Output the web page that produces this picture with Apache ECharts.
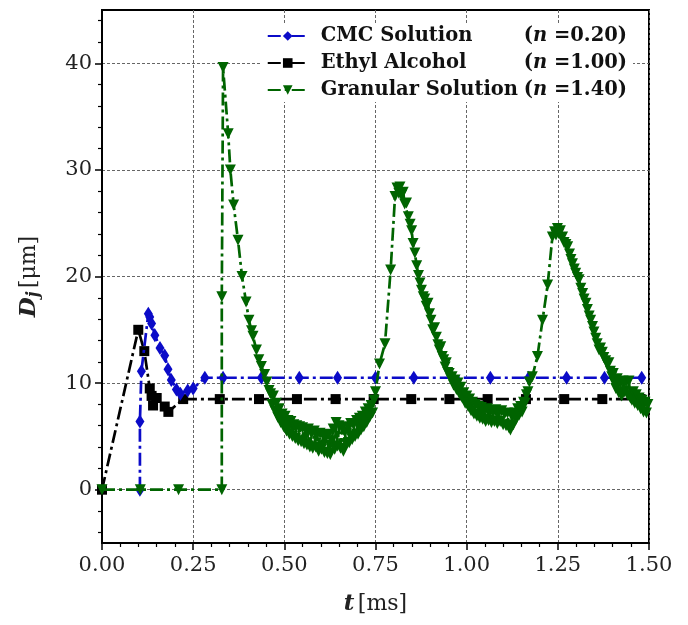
<!DOCTYPE html>
<html>
<head>
<meta charset="utf-8">
<script src="https://cdn.jsdelivr.net/npm/echarts@6/dist/echarts.min.js"></script>
<style>html,body{margin:0;padding:0;background:#fff}#c{width:688px;height:625px}</style>
</head>
<body>
<div id="c"></div>
<script>
// ---------- data ----------
const seriesNames = ['CMC Solution', 'Ethyl Alcohol', 'Granular Solution'];
const nValues = ['0.20', '1.00', '1.40'];
const xTicks = [0, 0.25, 0.5, 0.75, 1.0, 1.25, 1.5];
const yMajor = [0, 10, 20, 30, 40];
const yMinor = [-4, -2, 2, 4, 6, 8, 12, 14, 16, 18, 22, 24, 26, 28, 32, 34, 36, 38, 42, 44];

const cmcT = [0.104, 0.104, 0.108, 0.127, 0.131, 0.136, 0.145, 0.159, 0.172, 0.181, 0.190, 0.204, 0.215, 0.235, 0.250, 0.282,
  0.332, 0.437, 0.541, 0.646, 0.750, 0.855, 0.960, 1.065, 1.170, 1.274, 1.378, 1.480, 1.500];
const cmcD = [0, 6.4, 11.1, 16.5, 16.2, 15.6, 14.5, 13.3, 12.6, 11.3, 10.3, 9.4, 9.0, 9.3, 9.5, 10.5,
  10.5, 10.5, 10.5, 10.5, 10.5, 10.5, 10.5, 10.5, 10.5, 10.5, 10.5, 10.5, 10.5];

const ethT = [0, 0.0995, 0.116, 0.131, 0.136, 0.140, 0.150, 0.172, 0.182, 0.2226,
  0.323, 0.4306, 0.5346, 0.6406, 0.745, 0.848, 0.9527, 1.0575, 1.1626, 1.2675, 1.372, 1.477, 1.500];
const ethD = [0, 15.0, 13.0, 9.5, 8.8, 7.9, 8.6, 7.8, 7.3, 8.5,
  8.5, 8.5, 8.5, 8.5, 8.5, 8.5, 8.5, 8.5, 8.5, 8.5, 8.5, 8.5, 8.5];

const graT = [0, 0.105, 0.21, 0.3285, 0.3285, 0.332,
  0.346, 0.352, 0.361, 0.373, 0.384, 0.395, 0.403, 0.410, 0.414, 0.4235, 0.430, 0.437, 0.446, 0.452, 0.458, 0.462, 0.466, 0.470, 0.474, 0.478,
  0.482, 0.486, 0.490, 0.494, 0.498, 0.502, 0.506, 0.510, 0.514, 0.518, 0.522, 0.526, 0.530, 0.534, 0.538, 0.542, 0.546, 0.550, 0.554, 0.558,
  0.562, 0.566, 0.570, 0.574, 0.578, 0.582, 0.586, 0.590, 0.594, 0.598, 0.602, 0.606, 0.610, 0.614, 0.618, 0.622, 0.626, 0.630, 0.634, 0.638,
  0.642, 0.646, 0.650, 0.654, 0.658, 0.662, 0.666, 0.670, 0.674, 0.678, 0.682, 0.686, 0.690, 0.694, 0.698, 0.702, 0.706, 0.710, 0.714, 0.718,
  0.722, 0.726, 0.730, 0.734, 0.738, 0.742, 0.746, 0.750,
  0.761, 0.776, 0.7915, 0.8035, 0.809, 0.814, 0.817, 0.821, 0.826, 0.830, 0.835, 0.840, 0.845, 0.849, 0.853, 0.858, 0.863, 0.868, 0.872, 0.876,
  0.881, 0.885, 0.889, 0.894, 0.898, 0.902, 0.907, 0.912, 0.917, 0.921, 0.925, 0.929, 0.933, 0.937, 0.941, 0.944, 0.948, 0.952, 0.956, 0.960,
  0.964, 0.968, 0.972, 0.976, 0.980, 0.984, 0.988, 0.992, 0.996, 1.000, 1.004, 1.008, 1.012, 1.016, 1.020, 1.024, 1.028, 1.032, 1.036, 1.040,
  1.044, 1.048, 1.052, 1.056, 1.060, 1.064, 1.068, 1.072, 1.076, 1.080, 1.084, 1.088, 1.092, 1.096, 1.100, 1.104, 1.108, 1.112, 1.116, 1.120,
  1.124, 1.128, 1.132, 1.136, 1.140, 1.144, 1.148, 1.152, 1.156, 1.160, 1.164, 1.168, 1.172, 1.180,
  1.194, 1.208, 1.222, 1.235, 1.241, 1.245, 1.249, 1.253, 1.257, 1.263, 1.267, 1.272, 1.277, 1.282, 1.286, 1.290, 1.295, 1.299, 1.304, 1.308,
  1.313, 1.318, 1.322, 1.327, 1.331, 1.336, 1.340, 1.345, 1.349, 1.354, 1.358, 1.363, 1.367, 1.372, 1.376, 1.381, 1.385, 1.390, 1.394, 1.398,
  1.402, 1.405, 1.409, 1.413, 1.417, 1.421, 1.425, 1.429, 1.433, 1.437, 1.441, 1.445, 1.449, 1.453, 1.457, 1.461, 1.465, 1.469, 1.473, 1.477,
  1.481, 1.485, 1.489, 1.493, 1.497];
const graD = [0, 0, 0, 0, 18.1, 39.6,
  33.4, 30.0, 26.7, 23.4, 20.0, 17.6, 15.9, 14.9, 14.4, 13.1, 12.2, 11.55, 10.8, 10.1, 9.3, 9.0, 8.0, 8.8, 7.4, 8.1,
  6.8, 7.6, 6.3, 7.1, 5.9, 6.9, 5.5, 6.5, 5.2, 6.4, 5.0, 6.1, 4.8, 6.0, 4.6, 5.9, 4.5, 5.8, 4.3, 5.6,
  4.2, 5.7, 4.0, 5.3, 3.9, 5.5, 4.0, 5.2, 3.6, 5.3, 3.8, 5.1, 3.5, 4.9, 3.4, 5.2, 3.3, 4.6, 5.7, 3.8,
  6.3, 4.1, 6.0, 3.9, 5.8, 3.6, 5.4, 4.3, 5.9, 4.4, 6.2, 4.7, 6.1, 5.0, 6.5, 5.2, 6.7, 5.6, 6.9, 5.9,
  7.3, 6.3, 7.6, 6.8, 7.9, 7.2, 8.4, 9.2,
  11.8, 13.7, 20.6, 27.5, 28.3, 27.8, 28.4, 27.6, 27.9, 26.8, 26.9, 25.6, 24.9, 24.3, 23.1, 22.2, 21.0, 20.1, 19.4, 18.7,
  18.1, 17.9, 17.2, 17.5, 16.5, 15.9, 15.0, 15.2, 14.3, 13.6, 13.1, 13.4, 12.5, 12.2, 11.5, 11.9, 11.0, 10.9, 10.4, 10.6,
  9.8, 10.3, 9.4, 10.0, 9.0, 9.6, 8.6, 9.1, 8.1, 8.8, 7.8, 8.5, 7.4, 8.2, 7.1, 8.0, 6.9, 7.8, 6.7, 7.7,
  6.6, 7.5, 6.4, 7.6, 6.5, 7.4, 6.3, 7.3, 6.4, 7.5, 6.2, 7.2, 6.4, 7.4, 6.1, 7.1, 6.0, 7.2, 5.8, 5.6,
  6.9, 6.1, 7.2, 6.6, 7.6, 7.0, 7.8, 7.3, 8.2, 8.1, 8.9, 9.2, 10.1, 10.6,
  12.5, 15.9, 19.2, 23.7, 24.2, 23.9, 24.5, 24.0, 24.3, 23.7, 23.2, 23.0, 22.8, 22.1, 21.6, 21.2, 20.7, 20.3, 19.9, 19.7,
  18.9, 18.4, 17.9, 17.5, 16.9, 16.3, 15.9, 15.3, 14.8, 14.2, 13.7, 13.1, 13.3, 12.9, 12.4, 12.1, 11.8, 11.9, 11.1, 10.6,
  10.9, 10.0, 9.5, 10.4, 9.1, 10.0, 8.8, 10.2, 9.2, 10.1, 8.9, 10.2, 8.6, 8.4, 9.2, 8.1, 8.9, 7.9, 8.6, 7.6,
  8.4, 7.3, 8.2, 7.2, 8.0];

// ---------- chart ----------
const SERIF = '"DejaVu Serif", "Liberation Serif", serif';
const colors = ['#0b0bc8', '#000000', '#006400'];
const dashDot = [13, 4, 3, 4];
const zip = (a, b) => a.map((v, i) => [v, b[i]]);
const edgeNoMark = (size) => (val) => (val[0] >= 1.5 ? 0 : size);

const chart = echarts.init(document.getElementById('c'), null, { renderer: 'canvas' });

const option = {
  animation: false,
  backgroundColor: '#fff',
  grid: { left: 102, right: 39, top: 10, bottom: 82, show: true, borderColor: '#000', borderWidth: 2, backgroundColor: 'transparent' },
  xAxis: {
    type: 'value', min: 0, max: 1.5, interval: 0.25,
    axisLine: { show: true, onZero: false, lineStyle: { color: '#000', width: 2 } },
    axisTick: { show: true, length: 7, lineStyle: { color: '#000', width: 1.5 } },
    minorTick: { show: true, splitNumber: 5, length: 4, lineStyle: { color: '#000', width: 1.2 } },
    axisLabel: { fontFamily: SERIF, fontSize: 21, color: '#222', margin: 12, formatter: v => v.toFixed(2) },
    splitLine: { show: true, lineStyle: { color: '#666', width: 1, type: [3, 2] } },
    name: '{t|t} {u|[ms]}', nameLocation: 'middle', nameGap: 50,
    nameTextStyle: { rich: {
      t: { fontFamily: SERIF, fontSize: 23, fontWeight: 'bold', fontStyle: 'italic', color: '#222' },
      u: { fontFamily: SERIF, fontSize: 22, color: '#222' } } }
  },
  yAxis: [{
    type: 'value', min: -5, max: 45,
    axisLine: { show: true, onZero: false, lineStyle: { color: '#000', width: 2 } },
    axisTick: { show: true, customValues: yMajor, length: 7, lineStyle: { color: '#000', width: 1.5 } },
    axisLabel: { customValues: yMajor, fontFamily: SERIF, fontSize: 21, color: '#222', margin: 10 },
    splitLine: { show: true, lineStyle: { color: '#666', width: 1, type: [3, 2] } },
    name: '{d|D}{s|j} {u|[μm]}', nameLocation: 'middle', nameGap: 60, nameRotate: 90,
    nameTextStyle: { rich: {
      d: { fontFamily: SERIF, fontSize: 23, fontWeight: 'bold', fontStyle: 'italic', color: '#222' },
      s: { fontFamily: SERIF, fontSize: 16, fontWeight: 'bold', fontStyle: 'italic', color: '#222', padding: [10, 0, 0, 0] },
      u: { fontFamily: SERIF, fontSize: 22, color: '#222' } } }
  }, {
    type: 'value', min: -5, max: 45, position: 'left',
    axisLine: { show: false },
    axisTick: { show: true, customValues: yMinor, length: 4, lineStyle: { color: '#000', width: 1.2 } },
    axisLabel: { show: false }, splitLine: { show: false }
  }],
  legend: {
    orient: 'vertical', right: 55, top: 24, backgroundColor: '#fff', padding: [2, 6, 2, 6],
    itemGap: 7, itemWidth: 40, itemHeight: 12,
    data: seriesNames,
    formatter: name => {
      const i = seriesNames.indexOf(name);
      return '{a|' + name + '}{b|(}{n|n}{b| =' + nValues[i] + ')}';
    },
    textStyle: { rich: {
      a: { fontFamily: SERIF, fontSize: 19.5, fontWeight: 'bold', color: '#111', width: 203, padding: [0, 0, 0, 8] },
      b: { fontFamily: SERIF, fontSize: 19.5, fontWeight: 'bold', color: '#111' },
      n: { fontFamily: SERIF, fontSize: 19.5, fontWeight: 'bold', fontStyle: 'italic', color: '#111' } } }
  },
  series: [
    { name: seriesNames[0], type: 'line', data: zip(cmcT, cmcD), color: colors[0],
      symbol: 'diamond', symbolSize: v => (v[0] >= 1.5 ? 0 : [9, 14]),
      lineStyle: { width: 2.7, type: dashDot }, z: 3 },
    { name: seriesNames[1], type: 'line', data: zip(ethT, ethD), color: colors[1],
      symbol: 'rect', symbolSize: edgeNoMark(10),
      lineStyle: { width: 2.7, type: dashDot }, z: 2 },
    { name: seriesNames[2], type: 'line', data: zip(graT, graD), color: colors[2],
      symbol: 'triangle', symbolRotate: 180, symbolSize: 11,
      lineStyle: { width: 2.7, type: dashDot }, z: 4 }
  ]
};
chart.setOption(option);
</script>
</body>
</html>
